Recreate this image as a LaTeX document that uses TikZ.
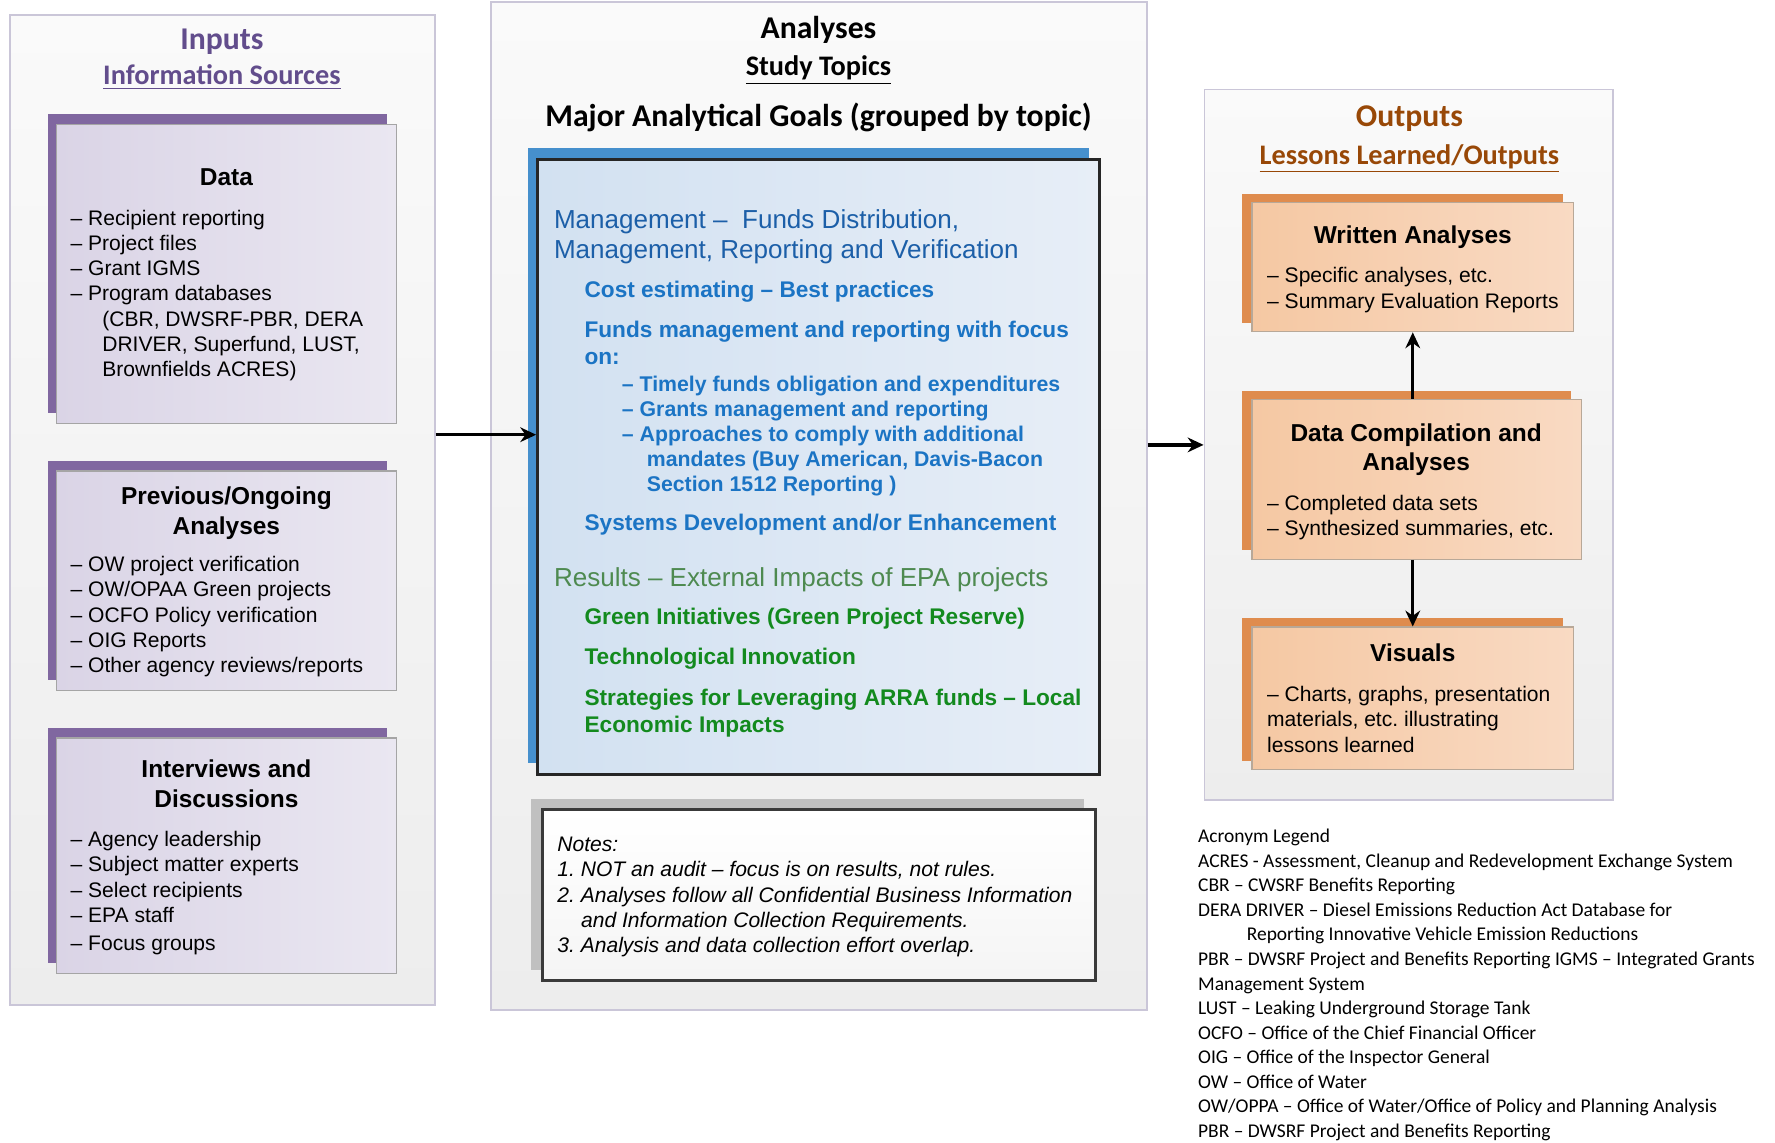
\documentclass[tikz,border=0pt]{standalone}
\usepackage{fontspec}
\setmainfont{Liberation Sans}
\newfontfamily\calfont[Ligatures=TeX]{Carlito}
\usepackage{tikz}
\usetikzlibrary{arrows.meta,fit,shadows}
\definecolor{inpurple}{HTML}{624D8C}
\definecolor{purpleshade}{HTML}{8067A0}
\definecolor{lavleft}{HTML}{DAD4E6}
\definecolor{lavright}{HTML}{EAE7F1}
\definecolor{boxline}{HTML}{A5A5A5}
\definecolor{panelline}{HTML}{CAC6D8}
\definecolor{paneltop}{HTML}{FAFAFA}
\definecolor{panelgrey}{HTML}{EDEDED}
\definecolor{blueshade}{HTML}{4690CD}
\definecolor{blueleft}{HTML}{D2E1F1}
\definecolor{blueright}{HTML}{E7EEF7}
\definecolor{mgmtblue}{HTML}{1C5FA8}
\definecolor{topicblue}{HTML}{1B74C4}
\definecolor{resgreen}{HTML}{4E8A50}
\definecolor{topicgreen}{HTML}{138A1E}
\definecolor{greyshade}{HTML}{C0C0C0}
\definecolor{noteline}{HTML}{3A3A3A}
\definecolor{orangeshade}{HTML}{DF8C4E}
\definecolor{peachleft}{HTML}{F5C8A3}
\definecolor{peachright}{HTML}{F9DAC3}
\definecolor{peachline}{HTML}{B8A898}
\definecolor{outbrown}{HTML}{984807}

\begin{document}
\frenchspacing
\begin{tikzpicture}[x=0.5pt,y=-0.5pt,>={Stealth[length=7pt,width=6.5pt]},
	panel/.style={draw=panelline,line width=0.8pt,top color=paneltop,bottom color=panelgrey,inner sep=0pt},
	inbox/.style={draw=boxline,line width=0.6pt,left color=lavleft,right color=lavright,inner sep=0pt,
		drop shadow={shadow xshift=-4pt,shadow yshift=4.5pt,fill=purpleshade,opacity=1}},
	goalbox/.style={draw=black!85,line width=1.4pt,left color=blueleft,right color=blueright,inner sep=0pt,
		drop shadow={shadow xshift=-4.5pt,shadow yshift=5pt,fill=blueshade,opacity=1}},
	notebox/.style={draw=noteline,line width=1.2pt,top color=white,bottom color=black!4,inner sep=0pt,
		drop shadow={shadow xshift=-5pt,shadow yshift=4.5pt,fill=greyshade,opacity=1}},
	outbox/.style={draw=peachline,line width=0.6pt,left color=peachleft,right color=peachright,inner sep=0pt,
		drop shadow={shadow xshift=-4.5pt,shadow yshift=4pt,fill=orangeshade,opacity=1}},
	head/.style={anchor=base,inner sep=0pt,font=\calfont\bfseries\fontsize{14}{16}\selectfont},
	subhead/.style={anchor=base,inner sep=0pt,font=\calfont\bfseries\fontsize{12.5}{15}\selectfont},
	boxtitle/.style={anchor=north,inner sep=0pt,align=center,font=\bfseries\fontsize{10.8}{13}\selectfont},
	list/.style={anchor=north west,inner sep=0pt,align=left,font=\fontsize{9.3}{11.15}\selectfont},
	mgmt/.style={anchor=base west,inner sep=0pt,text=mgmtblue,font=\fontsize{11.5}{13}\selectfont},
	topic/.style={anchor=base west,inner sep=0pt,font=\bfseries\fontsize{10}{12}\selectfont},
	subtopic/.style={anchor=base west,inner sep=0pt,text=topicblue,font=\bfseries\fontsize{9.4}{11}\selectfont},
	legend/.style={anchor=north west,inner sep=0pt,align=left,font=\calfont\fontsize{8.6}{10.85}\selectfont},
	flow/.style={->,line width=1.5pt}]
	\useasboundingbox (0,0) rectangle (1568,1009);
	\node[panel,fit={(9,13) (384,888)}] (inputs) {};
	\node[panel,fit={(434,2) (1013,892)}] (analyses) {};
	\node[panel,fit={(1064,79) (1425,707)}] (outputs) {};
	\node[inbox,fit={(50,110) (350,374)}] (data) {};
	\node[inbox,fit={(50,416) (350,610)}] (prior) {};
	\node[inbox,fit={(50,652) (350,860)}] (talks) {};
	\node[goalbox,fit={(475,141) (971,684)}] (goals) {};
	\node[notebox,fit={(479,715) (968,866)}] (notes) {};
	\node[outbox,fit={(1106,179) (1390,293)}] (written) {};
	\node[outbox,fit={(1106,353) (1397,494)}] (compile) {};
	\node[outbox,fit={(1106,554) (1390,680)}] (visuals) {};

	\node[head,text=inpurple] (inputs-title) at (196,44) {Inputs};
	\node[subhead,text=inpurple] (inputs-sub) at (196,75) {\underline{Information Sources}};
	\node[head] (analyses-title) at (723,34) {Analyses};
	\node[subhead] (analyses-sub) at (723,67) {\underline{Study Topics}};
	\node[head] (goals-title) at (723,112) {Major Analytical Goals (grouped by topic)};
	\node[head,text=outbrown] (outputs-title) at (1245,112) {Outputs};
	\node[subhead,text=outbrown] (outputs-sub) at (1245,145) {\underline{Lessons Learned/Outputs}};

	\node[boxtitle,anchor=base] (data-title) at (200,164) {Data};
	\node[list] (data-list) at (62,185) {-- Recipient reporting\\-- Project files\\-- Grant IGMS\\-- Program databases\\\hspace*{14pt}(CBR, DWSRF-PBR, DERA\\\hspace*{14pt}DRIVER, Superfund, LUST,\\\hspace*{14pt}Brownfields ACRES)};
	\node[boxtitle] (prior-title) at (200,430) {Previous/Ongoing\\Analyses};
	\node[list] (prior-list) at (62,491) {-- OW project verification\\-- OW/OPAA Green projects\\-- OCFO Policy verification\\-- OIG Reports\\-- Other agency reviews/reports};
	\node[boxtitle] (talks-title) at (200,671) {Interviews and\\Discussions};
	\node[list] (talks-list) at (62,734) {-- Agency leadership\\-- Subject matter experts\\-- Select recipients\\-- EPA staff\\[1.3pt]-- Focus groups};

	\node[mgmt] (mgmt1) at (489,202) {Management --~ Funds Distribution,};
	\node[mgmt] (mgmt2) at (489,228) {Management, Reporting and Verification};
	\foreach \y/\t [count=\i] in {263/Cost estimating -- Best practices,298/Funds management and reporting with focus,322/on:,469/{Systems Development and/or Enhancement}}
		\node[topic,text=topicblue] (mtopic\i) at (516,\y) {\t};
	\foreach \x/\y/\t [count=\i] in {549/346/-- Timely funds obligation and expenditures,549/368/-- Grants management and reporting,549/390/-- Approaches to comply with additional,571/412/{mandates (Buy American, Davis-Bacon},571/434/Section 1512 Reporting )}
		\node[subtopic] (sub\i) at (\x,\y) {\t};
	\node[mgmt,text=resgreen] (results) at (489,518) {Results -- External Impacts of EPA projects};
	\foreach \y/\t [count=\i] in {552/Green Initiatives (Green Project Reserve),587/Technological Innovation,623/Strategies for Leveraging ARRA funds -- Local,647/Economic Impacts}
		\node[topic,text=topicgreen] (rtopic\i) at (516,\y) {\t};

	\node[list,font=\itshape\fontsize{9.3}{11.15}\selectfont] (notes-list) at (492,739) {Notes:\\1. NOT an audit -- focus is on results, not rules.\\2. Analyses follow all Confidential Business Information\\\hspace*{10.5pt}and Information Collection Requirements.\\3. Analysis and data collection effort overlap.};

	\node[boxtitle,anchor=base] (written-title) at (1248,215) {Written Analyses};
	\node[list] (written-list) at (1119,236) {-- Specific analyses, etc.\\-- Summary Evaluation Reports};
	\node[boxtitle] (compile-title) at (1251,374) {Data Compilation and\\Analyses};
	\node[list] (compile-list) at (1119,437) {-- Completed data sets\\-- Synthesized summaries, etc.};
	\node[boxtitle,anchor=base] (visuals-title) at (1248,584) {Visuals};
	\node[list] (visuals-list) at (1119,606) {-- Charts, graphs, presentation\\materials, etc. illustrating\\lessons learned};

	\node[legend] (legend) at (1058,732) {Acronym Legend\\ACRES - Assessment, Cleanup and Redevelopment Exchange System\\CBR -- CWSRF Benefits Reporting\\DERA DRIVER -- Diesel Emissions Reduction Act Database for\\\hspace*{21.5pt}Reporting Innovative Vehicle Emission Reductions\\PBR -- DWSRF Project and Benefits Reporting IGMS -- Integrated Grants\\Management System\\LUST -- Leaking Underground Storage Tank\\OCFO -- Office of the Chief Financial Officer\\OIG -- Office of the Inspector General\\OW -- Office of Water\\OW/OPPA -- Office of Water/Office of Policy and Planning Analysis\\PBR -- DWSRF Project and Benefits Reporting};

	\coordinate (feed) at (0,384);
	\draw[flow] (inputs.east |- feed) -- (goals.west |- feed);
	\draw[flow] (analyses.east |- outputs.west) -- (outputs.west);
	\draw[flow] (compile.north -| written.south) -- (written.south);
	\draw[flow] (compile.south -| visuals.north) -- (visuals.north);
\end{tikzpicture}
\end{document}
